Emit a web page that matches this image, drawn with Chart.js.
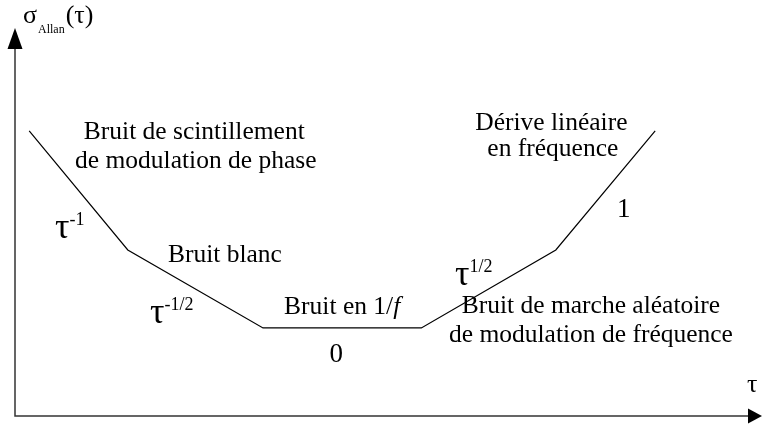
<!DOCTYPE html>
<html>
<head>
<meta charset="utf-8">
<script src="https://cdn.jsdelivr.net/npm/chart.js@4"></script>
<style>
  html, body { margin: 0; padding: 0; background: #fff; }
  #wrap { width: 762px; height: 425px; }
</style>
</head>
<body>
<div id="wrap"><canvas id="allanChart" width="762" height="425"></canvas></div>
<script>
// log(tau) / log(sigma) in arbitrary units
const tauPoints = [1.9, 15.1, 33.2, 54.4, 72.4, 85.7];
const sigmaPoints = [73.5, 42.8, 22.7, 22.7, 42.8, 73.5];

// noise regions written on the curve
const regionText = [
    'Bruit de scintillement', 'de modulation de phase',
    'Bruit blanc',
    'Dérive linéaire', 'en fréquence',
    'Bruit de marche aléatoire', 'de modulation de fréquence',
    '0', '1'
];
const regionX = [24.0, 24.2, 28.1, 71.8, 72.0, 77.1, 77.1, 43.0, 81.5];
const regionY = [71.4, 63.9, 39.7, 73.7, 67.0, 26.5, 19.1, 13.9, 51.3];

// slopes written as tau powers
const slopeText = ['-1', '-1/2', '1/2'];
const slopeX = [5.35, 18.07, 58.9];
const slopeY = [45.9, 24.0, 33.8];

const serif = '"Liberation Serif", "Times New Roman", serif';

const drawTexts = {
    id: 'drawTexts',
    afterDatasetsDraw(chart) {
        const ctx = chart.ctx;
        const xs = chart.scales.x, ys = chart.scales.y;
        const area = chart.chartArea;
        ctx.save();
        ctx.fillStyle = '#000';
        ctx.textBaseline = 'alphabetic';

        // axes with arrow heads
        ctx.strokeStyle = '#333';
        ctx.lineWidth = 1.5;
        ctx.beginPath();
        ctx.moveTo(area.left, area.top + 20);
        ctx.lineTo(area.left, area.bottom);
        ctx.lineTo(area.right - 13, area.bottom);
        ctx.stroke();
        ctx.beginPath();
        ctx.moveTo(area.left, area.top);
        ctx.lineTo(area.left - 7.5, area.top + 21);
        ctx.lineTo(area.left + 7.5, area.top + 21);
        ctx.closePath();
        ctx.fill();
        ctx.beginPath();
        ctx.moveTo(area.right, area.bottom);
        ctx.lineTo(area.right - 14, area.bottom - 7.5);
        ctx.lineTo(area.right - 14, area.bottom + 7.5);
        ctx.closePath();
        ctx.fill();

        // region labels
        ctx.textAlign = 'center';
        regionText.forEach((t, i) => {
            const big = (t === '0' || t === '1');
            ctx.font = (big ? '27px ' : '25.5px ') + serif;
            ctx.fillText(t, xs.getPixelForValue(regionX[i]), ys.getPixelForValue(regionY[i]));
        });

        // "Bruit en 1/f" with an italic f
        ctx.font = '25.5px ' + serif;
        const partA = 'Bruit en 1/';
        const wA = ctx.measureText(partA).width;
        ctx.font = 'italic 25.5px ' + serif;
        const wB = ctx.measureText('f').width;
        const cx = xs.getPixelForValue(43.8), cy = ys.getPixelForValue(26.3);
        ctx.textAlign = 'left';
        ctx.font = '25.5px ' + serif;
        ctx.fillText(partA, cx - (wA + wB) / 2, cy);
        ctx.font = 'italic 25.5px ' + serif;
        ctx.fillText('f', cx - (wA + wB) / 2 + wA, cy);

        // tau powers
        slopeText.forEach((s, i) => {
            const px = xs.getPixelForValue(slopeX[i]), py = ys.getPixelForValue(slopeY[i]);
            ctx.font = '36px ' + serif;
            ctx.fillText('τ', px, py);
            const w = ctx.measureText('τ').width;
            ctx.font = '18px ' + serif;
            ctx.fillText(s, px + w, py - 13);
        });

        // axis titles
        ctx.font = '26px ' + serif;
        ctx.textAlign = 'center';
        ctx.fillText('τ', xs.getPixelForValue(98.7), ys.getPixelForValue(6.2));
        ctx.textAlign = 'left';
        let sx = xs.getPixelForValue(1.07);
        const sy = ys.getPixelForValue(101.3);
        ctx.font = '26px ' + serif;
        ctx.fillText('σ', sx, sy);
        sx += ctx.measureText('σ').width + 1;
        ctx.font = '12px ' + serif;
        ctx.fillText('Allan', sx, sy + 10);
        sx += ctx.measureText('Allan').width + 1;
        ctx.font = '26px ' + serif;
        ctx.fillText('(τ)', sx, sy);
        ctx.restore();
    }
};

new Chart(document.getElementById('allanChart').getContext('2d'), {
    type: 'scatter',
    data: {
        datasets: [{
            data: tauPoints.map((t, i) => ({ x: t, y: sigmaPoints[i] })),
            showLine: true,
            borderColor: '#000',
            borderWidth: 1.2,
            pointRadius: 0,
            tension: 0
        }]
    },
    options: {
        responsive: false,
        animation: false,
        layout: { padding: { left: 15, right: 0, top: 28, bottom: 9 } },
        scales: {
            x: { type: 'linear', min: 0, max: 100, display: false },
            y: { type: 'linear', min: 0, max: 100, display: false }
        },
        plugins: {
            legend: { display: false },
            tooltip: { enabled: false }
        }
    },
    plugins: [drawTexts]
});
</script>
</body>
</html>
